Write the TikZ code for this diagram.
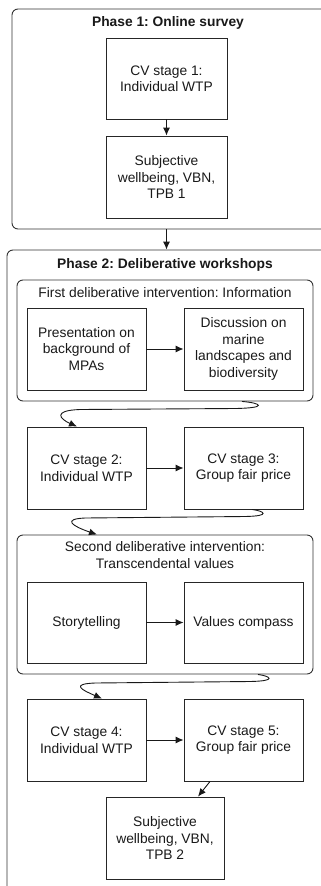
\documentclass[tikz,border=0pt]{standalone}
\usepackage{fontspec}
\setmainfont{Liberation Sans}
\usetikzlibrary{arrows.meta}
\frenchspacing
\begin{document}
\begin{tikzpicture}[x=1pt,y=-1pt,
  every node/.style={font=\fontsize{13.8}{16.5}\selectfont, text=black!90},
  stepbox/.style={draw=black!85, line width=0.9pt, rectangle, minimum width=119pt, minimum height=82pt, align=center, inner sep=2pt},
  phasebox/.style={draw=black!80, line width=0.9pt, rectangle, rounded corners=6pt},
  groupbox/.style={draw=black!80, line width=0.9pt, rectangle, rounded corners=6pt, minimum width=296pt},
  title/.style={font=\fontsize{13.8}{16.5}\selectfont\bfseries, align=center},
  subtitle/.style={align=center},
  arr/.style={-{Latex[length=8pt,width=7pt]}, line width=0.9pt, draw=black!90}
]
\useasboundingbox (0,0) rectangle (321,886);
\clip (0,0) rectangle (321,886);

% Phase 1
\node[phasebox, minimum width=328pt, minimum height=220pt] (p1) at (176,119) {};
\node[title] (t1) at (168,23) {Phase 1: Online survey};
\node[stepbox, minimum width=121pt, minimum height=81pt] (cv1) at (166.5,78.5) {CV stage 1:\\Individual WTP};
\node[stepbox, minimum width=121pt] (sub1) at (166.5,177) {Subjective\\wellbeing, VBN,\\TPB 1};
\draw[arr] (cv1) -- (sub1);

% Phase 2
\node[phasebox, minimum width=333pt, minimum height=660pt] (p2) at (173.5,580) {};
\node[title] (t2) at (165,265) {Phase 2: Deliberative workshops};
\draw[arr] (sub1 |- p1.south) -- (sub1 |- p2.north);

% First intervention
\node[groupbox, minimum height=121pt] (int1) at (165,340.5) {};
\node[subtitle] (int1t) at (165,293) {First deliberative intervention: Information};
\node[stepbox] (pres) at (86.5,349) {Presentation on\\background of\\MPAs};
\node[stepbox] (disc) at (243.5,349) {Discussion on\\marine\\landscapes and\\biodiversity};
\draw[arr] (pres) -- (disc);

\node[stepbox] (cv2) at (86.5,468) {CV stage 2:\\Individual WTP};
\node[stepbox] (cv3) at (243.5,468) {CV stage 3:\\Group fair price};
\draw[arr] (cv2) -- (cv3);

\draw[arr] ([xshift=77pt]int1.south) .. controls (262,403) and (268,408) .. (235,408.5)
  -- (80,409.5) .. controls (52,410.5) and (60,419) .. ([xshift=-9.5pt]cv2.north);

% Second intervention
\node[groupbox, minimum height=139pt] (int2) at (165,604.5) {};
\node[subtitle] (int2t) at (165,555) {Second deliberative intervention:\\Transcendental values};
\node[stepbox, minimum height=81pt] (story) at (86.5,622.5) {Storytelling};
\node[stepbox, minimum height=81pt] (comp) at (243.5,622.5) {Values compass};
\draw[arr] (story) -- (comp);

\draw[arr] ([xshift=8.5pt]cv3.south) .. controls (264,511) and (272,516) .. (245,516.5)
  -- (85,518) .. controls (62,519) and (72,526) .. ([xshift=-68pt]int2.north);

\node[stepbox] (cv4) at (86.5,740) {CV stage 4:\\Individual WTP};
\node[stepbox] (cv5) at (243.5,740) {CV stage 5:\\Group fair price};
\draw[arr] (cv4) -- (cv5);

\draw[arr] ([xshift=93pt]int2.south) .. controls (270,676) and (278,681) .. (250,681.5)
  -- (95,683) .. controls (70,684) and (82,690) .. ([xshift=15.5pt]cv4.north);

\node[stepbox, minimum width=118pt] (sub2) at (165,838) {Subjective\\wellbeing, VBN,\\TPB 2};
\draw[arr] ([xshift=-33.5pt]cv5.south) -- ([xshift=33pt]sub2.north);
\end{tikzpicture}
\end{document}
